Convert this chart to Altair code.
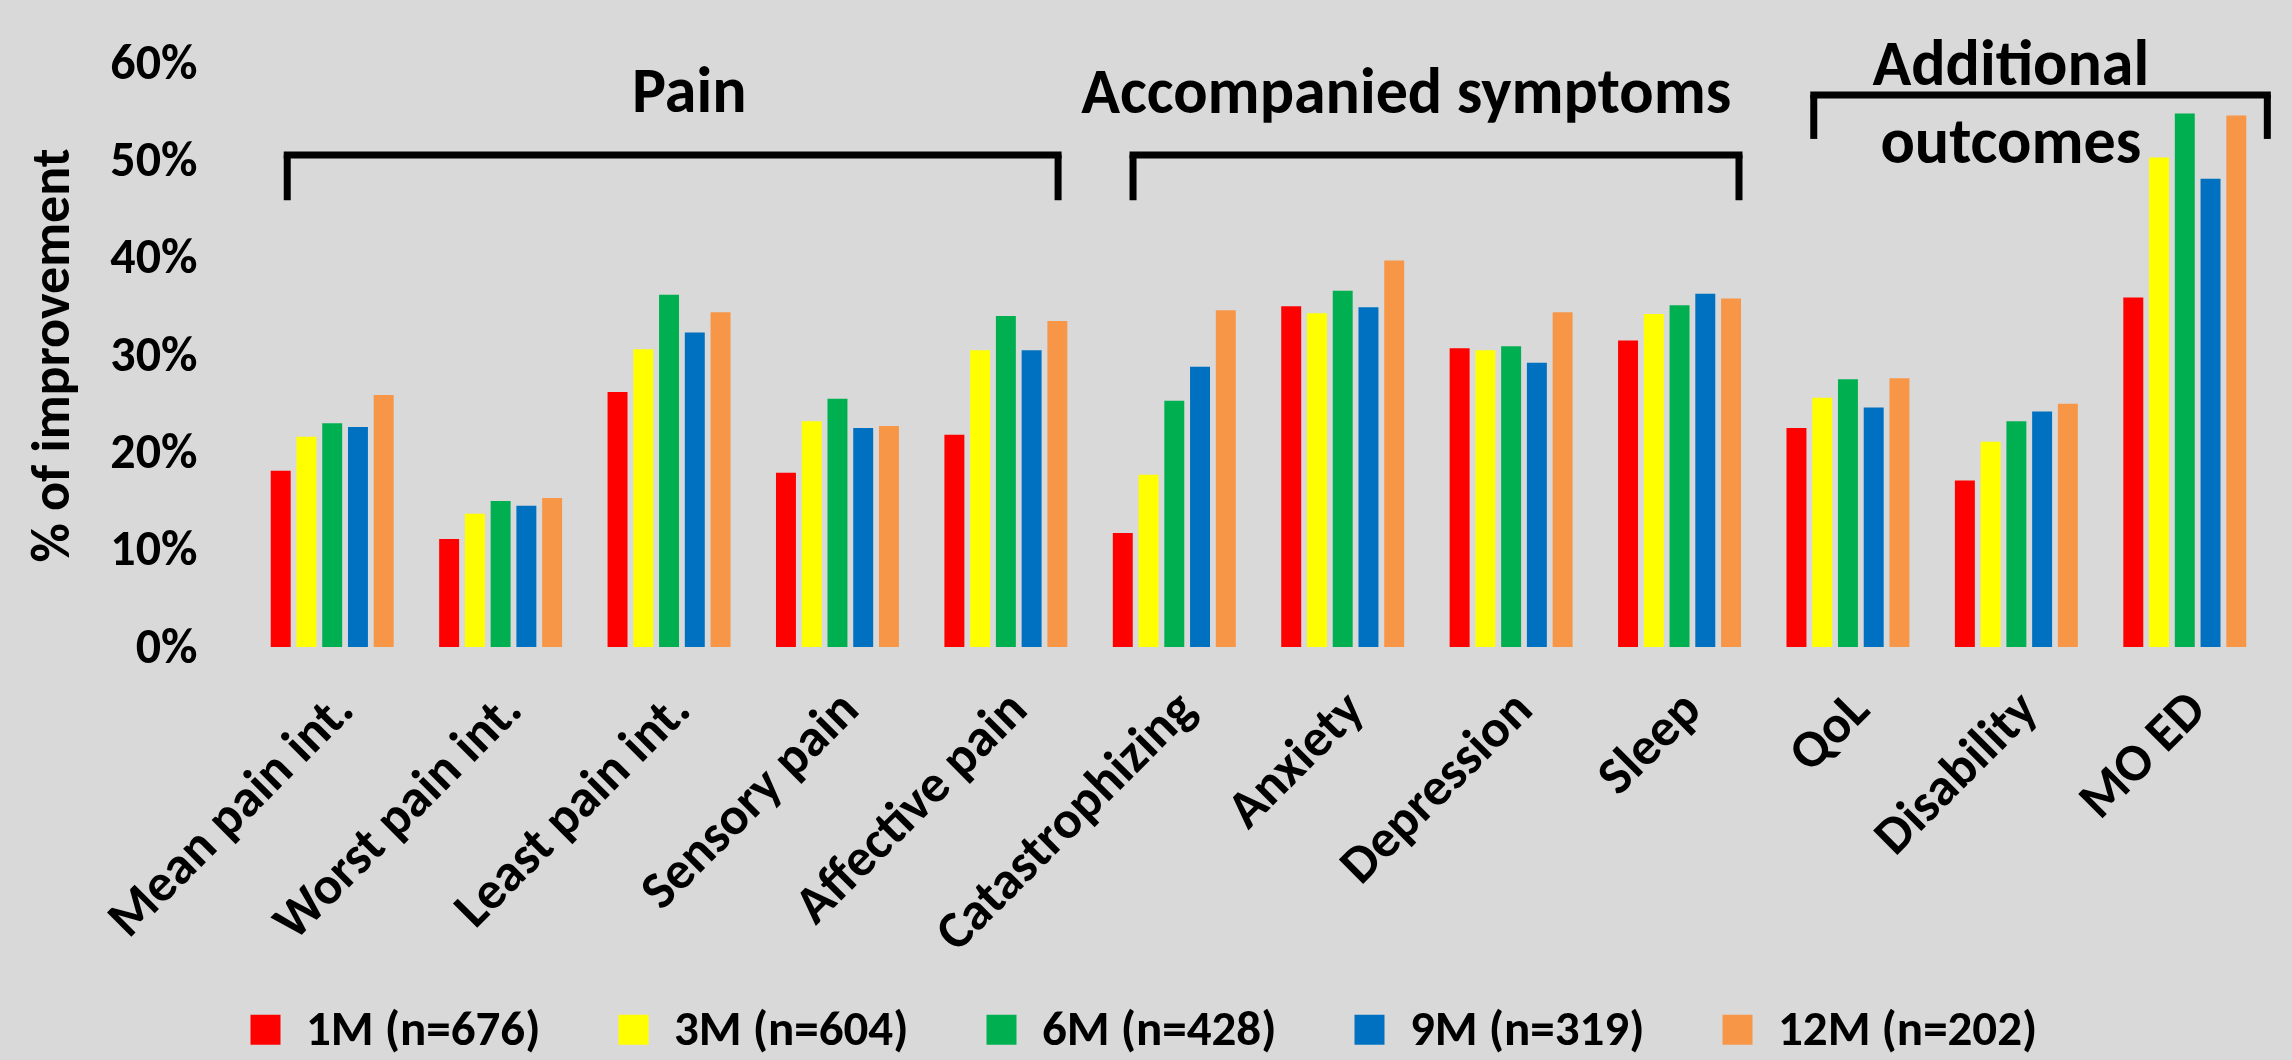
import altair as alt
import pandas as pd

F = "Carlito, Lato, sans-serif"

categories = ["Mean pain int.", "Worst pain int.", "Least pain int.", "Sensory pain",
              "Affective pain", "Catastrophizing", "Anxiety", "Depression", "Sleep",
              "QoL", "Disability", "MO ED"]
series = ["1M (n=676)", "3M (n=604)", "6M (n=428)", "9M (n=319)", "12M (n=202)"]
colors = ["#ff0000", "#ffff00", "#00b050", "#0070c0", "#f79646"]

v_1m = [18.1, 11.1, 26.2, 17.9, 21.8, 11.7, 35.0, 30.7, 31.5, 22.5, 17.1, 35.9]
v_3m = [21.6, 13.7, 30.6, 23.2, 30.5, 17.7, 34.3, 30.5, 34.2, 25.6, 21.1, 50.3]
v_6m = [23.0, 15.0, 36.2, 25.5, 34.0, 25.3, 36.6, 30.9, 35.1, 27.5, 23.2, 54.8]
v_9m = [22.6, 14.5, 32.3, 22.5, 30.5, 28.8, 34.9, 29.2, 36.3, 24.6, 24.2, 48.1]
v_12m = [25.9, 15.3, 34.4, 22.7, 33.5, 34.6, 39.7, 34.4, 35.8, 27.6, 25.0, 54.6]

y_ticks = [0, 0.1, 0.2, 0.3, 0.4, 0.5, 0.6]

# group brackets, in category-index units along x and value units along y
bracket_start = [0.233, 5.255, 9.297]
bracket_end = [4.81, 8.853, 11.99]
bracket_top = [0.5055, 0.5055, 0.567]
bracket_bottom = [0.459, 0.459, 0.522]

group_text = ["Pain", "Accompanied symptoms", "Additional", "outcomes"]
group_text_x = [2.62, 6.877, 10.467, 10.467]
group_text_y = [0.55, 0.549, 0.577, 0.497]

rows = []
for s, vals in zip(series, [v_1m, v_3m, v_6m, v_9m, v_12m]):
    for c, v in zip(categories, vals):
        rows.append({"cat": c, "series": s, "value": v / 100})
df = pd.DataFrame(rows)

hdf = pd.DataFrame({"x": bracket_start, "x2": bracket_end, "y": bracket_top})
vrows = []
for s, e, t, b in zip(bracket_start, bracket_end, bracket_top, bracket_bottom):
    vrows.append({"x": s, "y": t, "y2": b})
    vrows.append({"x": e, "y": t, "y2": b})
vdf = pd.DataFrame(vrows)
tdf = pd.DataFrame({"x": group_text_x, "y": group_text_y, "t": group_text})

yscale = alt.Scale(domain=[0, 0.6], nice=False, zero=True)
xq = alt.Scale(domain=[0, 12], nice=False, zero=False)
yaxis = alt.Axis(values=y_ticks, format=".0%", title="% of improvement",
                 labelFont=F, labelFontSize=50, labelFontWeight="bold",
                 labelColor="black", labelPadding=51,
                 domain=False, ticks=False, grid=False,
                 titleFont=F, titleFontSize=54, titleFontWeight="bold",
                 titleColor="black", titleX=-196, titleY=292,
                 titleAngle=-90, titleBaseline="middle", titleAlign="center")

bars = alt.Chart(df).mark_bar().encode(
    x=alt.X("cat:N", sort=categories,
            scale=alt.Scale(paddingInner=0.27, paddingOuter=0.135),
            axis=alt.Axis(title=None, labelAngle=-45, labelAlign="right", labelBaseline="top",
                          labelFont=F, labelFontSize=53, labelFontWeight="bold",
                          labelColor="black", labelPadding=35, labelOffset=-6, labelLimit=0,
                          domain=False, ticks=False, grid=False)),
    xOffset=alt.XOffset("series:N", sort=series,
                        scale=alt.Scale(paddingInner=0.225, paddingOuter=0)),
    y=alt.Y("value:Q", scale=yscale, axis=yaxis),
    color=alt.Color("series:N", sort=series,
                    scale=alt.Scale(domain=series, range=colors),
                    legend=alt.Legend(orient="none", legendX=-7, legendY=942,
                                      direction="horizontal", title=None,
                                      symbolType="square", symbolSize=900,
                                      symbolStrokeWidth=0, symbolOpacity=1,
                                      labelFont=F, labelFontSize=49, labelFontWeight="bold",
                                      labelColor="black", labelOffset=16,
                                      columnPadding=68, labelLimit=0)),
)

hlines = alt.Chart(hdf).mark_rule(color="black", strokeWidth=7, strokeCap="square").encode(
    x=alt.X("x:Q", scale=xq, axis=None),
    x2="x2:Q",
    y=alt.Y("y:Q", scale=yscale, axis=yaxis),
)
vlines = alt.Chart(vdf).mark_rule(color="black", strokeWidth=7).encode(
    x=alt.X("x:Q", scale=xq, axis=None),
    y=alt.Y("y:Q", scale=yscale, axis=yaxis),
    y2="y2:Q",
)
texts = alt.Chart(tdf).mark_text(font=F, fontSize=64, fontWeight="bold", color="black",
                                 align="center", baseline="alphabetic").encode(
    x=alt.X("x:Q", scale=xq, axis=None),
    y=alt.Y("y:Q", scale=yscale, axis=yaxis),
    text="t:N",
)

chart = alt.layer(bars, hlines, vlines, texts).resolve_scale(x="independent").properties(
    width=2021, height=584,
    padding={"left": 248, "top": 63, "right": 23, "bottom": 413},
    autosize=alt.AutoSizeParams(type="none"),
    background="#d9d9d9",
).configure_view(stroke=None)

chart.save("out.html", embed_options={"renderer": "svg", "actions": False})
